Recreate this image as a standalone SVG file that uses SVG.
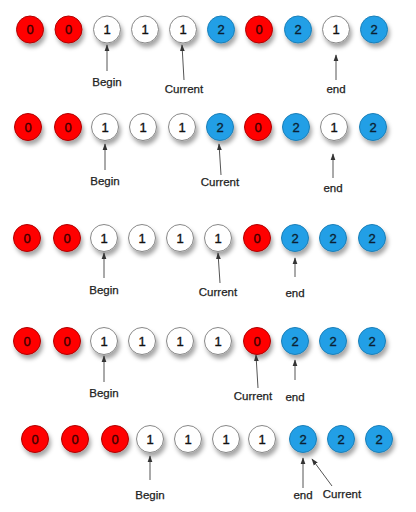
<svg xmlns="http://www.w3.org/2000/svg" width="416" height="512" viewBox="0 0 416 512">
<defs>
<filter id="sh" x="-50%" y="-50%" width="200%" height="200%">
<feDropShadow dx="2" dy="4" stdDeviation="2.2" flood-color="#000" flood-opacity="0.35"/>
</filter>
<marker id="ah" viewBox="0 0 10 10" refX="9" refY="5" markerWidth="7" markerHeight="7" markerUnits="userSpaceOnUse" orient="auto">
<path d="M0,1.5 L10,5 L0,8.5 Z" fill="#333"/>
</marker>
<style>
circle{filter:url(#sh);stroke-width:1}
.r{fill:#ff0000;stroke:#b00000}
.b{fill:#239fe6;stroke:#1a7fb8}
.w{fill:#ffffff;stroke:#888}
.n{font-family:"Liberation Sans",Arial,sans-serif;font-size:13px;text-anchor:middle;stroke-width:0.35}
.nb{fill:#0b1f33;stroke:#0b1f33}
.nr{fill:#3a0000;stroke:#3a0000}
.nw{fill:#111;stroke:#111}
.lb{font-family:"Liberation Sans",Arial,sans-serif;font-size:11.5px;text-anchor:middle;fill:#222;stroke:#222;stroke-width:0.25}
#connectors line{stroke:#555;stroke-width:1;marker-end:url(#ah)}
</style>
</defs>
<rect width="416" height="512" fill="#fff"/>

<g id="row1">
<g id="r1n1"><circle class="r" cx="30" cy="29.5" r="13.5"/><text class="n nr" x="30" y="34">0</text></g>
<g id="r1n2"><circle class="r" cx="68.5" cy="29.5" r="13.5"/><text class="n nr" x="68.5" y="34">0</text></g>
<g id="r1n3"><circle class="w" cx="107" cy="29.5" r="13.5"/><text class="n nw" x="107" y="34">1</text></g>
<g id="r1n4"><circle class="w" cx="145" cy="29.5" r="13.5"/><text class="n nw" x="145" y="34">1</text></g>
<g id="r1n5"><circle class="w" cx="183" cy="29.5" r="13.5"/><text class="n nw" x="183" y="34">1</text></g>
<g id="r1n6"><circle class="b" cx="221" cy="29.5" r="13.5"/><text class="n nb" x="221" y="34">2</text></g>
<g id="r1n7"><circle class="r" cx="259" cy="29.5" r="13.5"/><text class="n nr" x="259" y="34">0</text></g>
<g id="r1n8"><circle class="b" cx="298" cy="29.5" r="13.5"/><text class="n nb" x="298" y="34">2</text></g>
<g id="r1n9"><circle class="w" cx="336" cy="29.5" r="13.5"/><text class="n nw" x="336" y="34">1</text></g>
<g id="r1n10"><circle class="b" cx="374" cy="29.5" r="13.5"/><text class="n nb" x="374" y="34">2</text></g>
</g>

<g id="row2">
<g id="r2n1"><circle class="r" cx="28" cy="127" r="13.5"/><text class="n nr" x="28" y="131.5">0</text></g>
<g id="r2n2"><circle class="r" cx="68" cy="127" r="13.5"/><text class="n nr" x="68" y="131.5">0</text></g>
<g id="r2n3"><circle class="w" cx="105" cy="127" r="13.5"/><text class="n nw" x="105" y="131.5">1</text></g>
<g id="r2n4"><circle class="w" cx="143" cy="127" r="13.5"/><text class="n nw" x="143" y="131.5">1</text></g>
<g id="r2n5"><circle class="w" cx="182" cy="127" r="13.5"/><text class="n nw" x="182" y="131.5">1</text></g>
<g id="r2n6"><circle class="b" cx="220" cy="127" r="13.5"/><text class="n nb" x="220" y="131.5">2</text></g>
<g id="r2n7"><circle class="r" cx="258" cy="127" r="13.5"/><text class="n nr" x="258" y="131.5">0</text></g>
<g id="r2n8"><circle class="b" cx="296" cy="127" r="13.5"/><text class="n nb" x="296" y="131.5">2</text></g>
<g id="r2n9"><circle class="w" cx="334" cy="127" r="13.5"/><text class="n nw" x="334" y="131.5">1</text></g>
<g id="r2n10"><circle class="b" cx="373" cy="127" r="13.5"/><text class="n nb" x="373" y="131.5">2</text></g>
</g>

<g id="row3">
<g id="r3n1"><circle class="r" cx="27" cy="238" r="13.5"/><text class="n nr" x="27" y="242.5">0</text></g>
<g id="r3n2"><circle class="r" cx="67" cy="238" r="13.5"/><text class="n nr" x="67" y="242.5">0</text></g>
<g id="r3n3"><circle class="w" cx="104" cy="238" r="13.5"/><text class="n nw" x="104" y="242.5">1</text></g>
<g id="r3n4"><circle class="w" cx="142" cy="238" r="13.5"/><text class="n nw" x="142" y="242.5">1</text></g>
<g id="r3n5"><circle class="w" cx="180" cy="238" r="13.5"/><text class="n nw" x="180" y="242.5">1</text></g>
<g id="r3n6"><circle class="w" cx="218" cy="238" r="13.5"/><text class="n nw" x="218" y="242.5">1</text></g>
<g id="r3n7"><circle class="r" cx="257" cy="238" r="13.5"/><text class="n nr" x="257" y="242.5">0</text></g>
<g id="r3n8"><circle class="b" cx="295" cy="238" r="13.5"/><text class="n nb" x="295" y="242.5">2</text></g>
<g id="r3n9"><circle class="b" cx="333" cy="238" r="13.5"/><text class="n nb" x="333" y="242.5">2</text></g>
<g id="r3n10"><circle class="b" cx="372" cy="238" r="13.5"/><text class="n nb" x="372" y="242.5">2</text></g>
</g>

<g id="row4">
<g id="r4n1"><circle class="r" cx="27" cy="341" r="13.5"/><text class="n nr" x="27" y="345.5">0</text></g>
<g id="r4n2"><circle class="r" cx="67" cy="341" r="13.5"/><text class="n nr" x="67" y="345.5">0</text></g>
<g id="r4n3"><circle class="w" cx="104" cy="341" r="13.5"/><text class="n nw" x="104" y="345.5">1</text></g>
<g id="r4n4"><circle class="w" cx="142" cy="341" r="13.5"/><text class="n nw" x="142" y="345.5">1</text></g>
<g id="r4n5"><circle class="w" cx="180" cy="341" r="13.5"/><text class="n nw" x="180" y="345.5">1</text></g>
<g id="r4n6"><circle class="w" cx="218" cy="341" r="13.5"/><text class="n nw" x="218" y="345.5">1</text></g>
<g id="r4n7"><circle class="r" cx="257" cy="341" r="13.5"/><text class="n nr" x="257" y="345.5">0</text></g>
<g id="r4n8"><circle class="b" cx="295" cy="341" r="13.5"/><text class="n nb" x="295" y="345.5">2</text></g>
<g id="r4n9"><circle class="b" cx="333" cy="341" r="13.5"/><text class="n nb" x="333" y="345.5">2</text></g>
<g id="r4n10"><circle class="b" cx="372" cy="341" r="13.5"/><text class="n nb" x="372" y="345.5">2</text></g>
</g>

<g id="row5">
<g id="r5n1"><circle class="r" cx="35" cy="439" r="13.5"/><text class="n nr" x="35" y="443.5">0</text></g>
<g id="r5n2"><circle class="r" cx="75" cy="439" r="13.5"/><text class="n nr" x="75" y="443.5">0</text></g>
<g id="r5n3"><circle class="r" cx="115" cy="439" r="13.5"/><text class="n nr" x="115" y="443.5">0</text></g>
<g id="r5n4"><circle class="w" cx="150" cy="439" r="13.5"/><text class="n nw" x="150" y="443.5">1</text></g>
<g id="r5n5"><circle class="w" cx="188" cy="439" r="13.5"/><text class="n nw" x="188" y="443.5">1</text></g>
<g id="r5n6"><circle class="w" cx="226" cy="439" r="13.5"/><text class="n nw" x="226" y="443.5">1</text></g>
<g id="r5n7"><circle class="w" cx="262" cy="439" r="13.5"/><text class="n nw" x="262" y="443.5">1</text></g>
<g id="r5n8"><circle class="b" cx="303" cy="439" r="13.5"/><text class="n nb" x="303" y="443.5">2</text></g>
<g id="r5n9"><circle class="b" cx="341" cy="439" r="13.5"/><text class="n nb" x="341" y="443.5">2</text></g>
<g id="r5n10"><circle class="b" cx="379" cy="439" r="13.5"/><text class="n nb" x="379" y="443.5">2</text></g>
</g>

<g id="connectors">
<line x1="107" y1="71" x2="107" y2="45"/>
<line x1="184" y1="80" x2="182" y2="45"/>
<line x1="336" y1="80" x2="336" y2="55"/>
<line x1="105" y1="170" x2="105" y2="144"/>
<line x1="221" y1="175" x2="219" y2="144"/>
<line x1="333" y1="178" x2="333" y2="154"/>
<line x1="104" y1="278" x2="104" y2="253"/>
<line x1="220" y1="283" x2="218" y2="253"/>
<line x1="295" y1="277" x2="295" y2="258"/>
<line x1="104" y1="382" x2="104" y2="356"/>
<line x1="258" y1="388" x2="256" y2="355"/>
<line x1="295" y1="380" x2="295" y2="360"/>
<line x1="150" y1="480" x2="150" y2="456"/>
<line x1="303" y1="488" x2="303" y2="458"/>
<line x1="332" y1="486" x2="312" y2="459"/>
</g>

<g id="labels">
<text class="lb" x="107" y="86">Begin</text>
<text class="lb" x="184" y="93">Current</text>
<text class="lb" x="336" y="93">end</text>
<text class="lb" x="105" y="185">Begin</text>
<text class="lb" x="220" y="186">Current</text>
<text class="lb" x="333" y="192">end</text>
<text class="lb" x="104" y="294">Begin</text>
<text class="lb" x="218" y="296">Current</text>
<text class="lb" x="295" y="297">end</text>
<text class="lb" x="104" y="397">Begin</text>
<text class="lb" x="253" y="400">Current</text>
<text class="lb" x="295" y="401">end</text>
<text class="lb" x="150" y="499">Begin</text>
<text class="lb" x="303" y="499">end</text>
<text class="lb" x="342" y="498">Current</text>
</g>
</svg>
